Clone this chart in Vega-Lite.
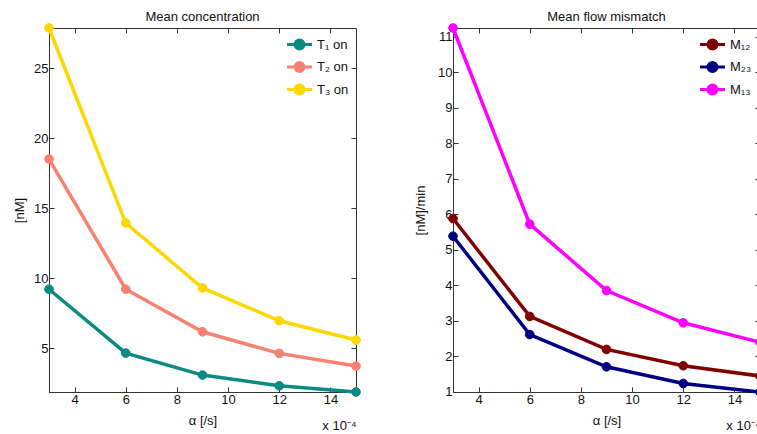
{
  "$schema": "https://vega.github.io/schema/vega-lite/v6.json",
  "background": "white",
  "padding": {"left": 13, "top": 10, "right": 0, "bottom": 0},
  "spacing": 50,
  "config": {
    "font": "Liberation Sans",
    "view": {"stroke": "#333", "strokeWidth": 1},
    "title": {"fontSize": 13, "fontWeight": "normal", "color": "#111", "offset": -3},
    "axis": {"grid": false, "domainColor": "#333", "tickColor": "#333", "labelColor": "#111", "titleColor": "#111", "labelFontSize": 13, "titleFontSize": 13, "titleFontWeight": "normal", "tickSize": -5, "labelPadding": 6},
    "legend": {"labelFontSize": 13, "labelColor": "#111"}
  },
  "datasets": {
    "conc": [
      {"series": "T₁ on", "alpha": 3, "value": 9.2},
      {"series": "T₁ on", "alpha": 6, "value": 4.64},
      {"series": "T₁ on", "alpha": 9, "value": 3.07},
      {"series": "T₁ on", "alpha": 12, "value": 2.3},
      {"series": "T₁ on", "alpha": 15, "value": 1.86},
      {"series": "T₂ on", "alpha": 3, "value": 18.5},
      {"series": "T₂ on", "alpha": 6, "value": 9.2},
      {"series": "T₂ on", "alpha": 9, "value": 6.16},
      {"series": "T₂ on", "alpha": 12, "value": 4.62},
      {"series": "T₂ on", "alpha": 15, "value": 3.71},
      {"series": "T₃ on", "alpha": 3, "value": 27.86},
      {"series": "T₃ on", "alpha": 6, "value": 13.93},
      {"series": "T₃ on", "alpha": 9, "value": 9.29},
      {"series": "T₃ on", "alpha": 12, "value": 6.95},
      {"series": "T₃ on", "alpha": 15, "value": 5.57}
    ],
    "flow": [
      {"series": "M₁₂", "alpha": 3, "value": 5.88},
      {"series": "M₁₂", "alpha": 6, "value": 3.12},
      {"series": "M₁₂", "alpha": 9, "value": 2.19},
      {"series": "M₁₂", "alpha": 12, "value": 1.73},
      {"series": "M₁₂", "alpha": 15, "value": 1.44},
      {"series": "M₂₃", "alpha": 3, "value": 5.38},
      {"series": "M₂₃", "alpha": 6, "value": 2.61},
      {"series": "M₂₃", "alpha": 9, "value": 1.7},
      {"series": "M₂₃", "alpha": 12, "value": 1.23},
      {"series": "M₂₃", "alpha": 15, "value": 0.99},
      {"series": "M₁₃", "alpha": 3, "value": 11.25},
      {"series": "M₁₃", "alpha": 6, "value": 5.72},
      {"series": "M₁₃", "alpha": 9, "value": 3.85},
      {"series": "M₁₃", "alpha": 12, "value": 2.94},
      {"series": "M₁₃", "alpha": 15, "value": 2.39}
    ]
  },
  "hconcat": [
    {
      "width": 307,
      "height": 364,
      "title": "Mean concentration",
      "data": {"name": "conc"},
      "layer": [
        {
          "mark": {"type": "line", "strokeWidth": 3.5},
          "encoding": {
            "x": {"field": "alpha", "type": "quantitative", "scale": {"domain": [3, 15], "nice": false, "zero": false}, "axis": {"orient": "bottom", "values": [4, 6, 8, 10, 12, 14], "title": "α [/s]", "titlePadding": 8}},
            "y": {"field": "value", "type": "quantitative", "scale": {"domain": [1.86, 27.86], "nice": false, "zero": false}, "axis": {"orient": "left", "values": [5, 10, 15, 20, 25], "title": "[nM]", "titlePadding": 7}},
            "stroke": {"field": "series", "type": "nominal", "scale": {"domain": ["T₁ on", "T₂ on", "T₃ on"], "range": ["#0a8a80", "#fa8072", "#ffd700"]},
              "legend": {"title": null, "orient": "none", "legendX": 241, "legendY": 7, "symbolType": "M-1.56,0H1.56M-0.56,0A0.56,0.56,0,1,0,0.56,0A0.56,0.56,0,1,0,-0.56,0Z", "symbolSize": 256, "symbolStrokeWidth": 3, "rowPadding": 1.5, "labelOffset": 8}}
          }
        },
        {
          "mark": {"type": "point", "filled": true, "size": 75, "opacity": 1, "strokeWidth": 1},
          "encoding": {
            "x": {"field": "alpha", "type": "quantitative", "axis": null},
            "y": {"field": "value", "type": "quantitative", "axis": null},
            "stroke": {"field": "series", "type": "nominal"},
            "fill": {"field": "series", "type": "nominal", "scale": {"domain": ["T₁ on", "T₂ on", "T₃ on"], "range": ["#0a8a80", "#fa8072", "#ffd700"]},
              "legend": {"title": null, "orient": "none", "legendX": 241, "legendY": 7, "symbolType": "M-1.56,0H1.56M-0.56,0A0.56,0.56,0,1,0,0.56,0A0.56,0.56,0,1,0,-0.56,0Z", "symbolSize": 256, "symbolStrokeWidth": 3, "rowPadding": 1.5, "labelOffset": 8}}
          }
        },
        {
          "mark": {"type": "point", "opacity": 0},
          "encoding": {
            "x": {"field": "alpha", "type": "quantitative", "axis": {"orient": "top", "values": [4, 6, 8, 10, 12, 14], "labels": false, "title": null, "domain": false}},
            "y": {"field": "value", "type": "quantitative", "axis": {"orient": "right", "values": [5, 10, 15, 20, 25], "labels": false, "title": null, "domain": false}}
          }
        },
        {
          "mark": {"type": "point", "opacity": 0},
          "encoding": {
            "x": {"field": "alpha", "type": "quantitative", "axis": {"orient": "bottom", "labels": false, "ticks": false, "domain": false, "title": "x 10⁻⁴", "titleAnchor": "end", "titleFontSize": 13, "offset": 23}},
            "y": {"field": "value", "type": "quantitative", "axis": null}
          }
        }
      ],
      "resolve": {"axis": {"x": "independent", "y": "independent"}}
    },
    {
      "width": 307,
      "height": 364,
      "title": "Mean flow mismatch",
      "data": {"name": "flow"},
      "layer": [
        {
          "mark": {"type": "line", "strokeWidth": 3.5},
          "encoding": {
            "x": {"field": "alpha", "type": "quantitative", "scale": {"domain": [3, 15], "nice": false, "zero": false}, "axis": {"orient": "bottom", "values": [4, 6, 8, 10, 12, 14], "title": "α [/s]", "titlePadding": 8}},
            "y": {"field": "value", "type": "quantitative", "scale": {"domain": [0.99, 11.25], "nice": false, "zero": false}, "axis": {"orient": "left", "values": [1, 2, 3, 4, 5, 6, 7, 8, 9, 10, 11], "title": "[nM]/min", "titlePadding": 10}},
            "stroke": {"field": "series", "type": "nominal", "scale": {"domain": ["M₁₂", "M₂₃", "M₁₃"], "range": ["#800000", "#000080", "#ff00ff"]},
              "legend": {"title": null, "orient": "none", "legendX": 250, "legendY": 7, "symbolType": "M-1.56,0H1.56M-0.56,0A0.56,0.56,0,1,0,0.56,0A0.56,0.56,0,1,0,-0.56,0Z", "symbolSize": 256, "symbolStrokeWidth": 3, "rowPadding": 1.5, "labelOffset": 8}}
          }
        },
        {
          "mark": {"type": "point", "filled": true, "size": 75, "opacity": 1, "strokeWidth": 1},
          "encoding": {
            "x": {"field": "alpha", "type": "quantitative", "axis": null},
            "y": {"field": "value", "type": "quantitative", "axis": null},
            "stroke": {"field": "series", "type": "nominal"},
            "fill": {"field": "series", "type": "nominal", "scale": {"domain": ["M₁₂", "M₂₃", "M₁₃"], "range": ["#800000", "#000080", "#ff00ff"]},
              "legend": {"title": null, "orient": "none", "legendX": 250, "legendY": 7, "symbolType": "M-1.56,0H1.56M-0.56,0A0.56,0.56,0,1,0,0.56,0A0.56,0.56,0,1,0,-0.56,0Z", "symbolSize": 256, "symbolStrokeWidth": 3, "rowPadding": 1.5, "labelOffset": 8}}
          }
        },
        {
          "mark": {"type": "point", "opacity": 0},
          "encoding": {
            "x": {"field": "alpha", "type": "quantitative", "axis": {"orient": "top", "values": [4, 6, 8, 10, 12, 14], "labels": false, "title": null, "domain": false}},
            "y": {"field": "value", "type": "quantitative", "axis": {"orient": "right", "values": [1, 2, 3, 4, 5, 6, 7, 8, 9, 10, 11], "labels": false, "title": null, "domain": false}}
          }
        },
        {
          "mark": {"type": "point", "opacity": 0},
          "encoding": {
            "x": {"field": "alpha", "type": "quantitative", "axis": {"orient": "bottom", "labels": false, "ticks": false, "domain": false, "title": "x 10⁻⁴", "titleAnchor": "end", "titleFontSize": 13, "offset": 23}},
            "y": {"field": "value", "type": "quantitative", "axis": null}
          }
        }
      ],
      "resolve": {"axis": {"x": "independent", "y": "independent"}}
    }
  ],
  "resolve": {"scale": {"stroke": "independent", "fill": "independent", "y": "independent"}, "legend": {"stroke": "independent", "fill": "independent"}}
}
